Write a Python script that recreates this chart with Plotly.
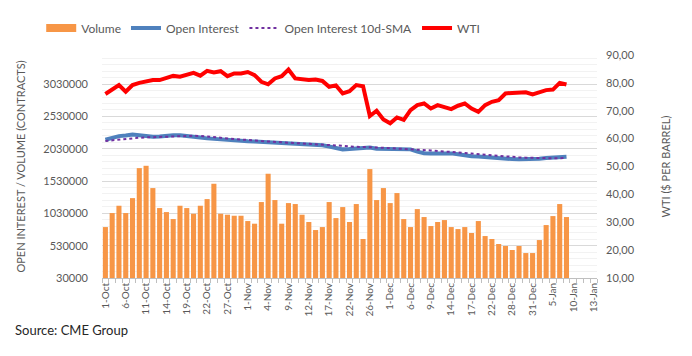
import plotly.graph_objects as go

# Trading-day categories (x axis)
dates = [
    "1-Oct", "4-Oct", "5-Oct", "6-Oct", "7-Oct", "8-Oct", "11-Oct", "12-Oct", "13-Oct", "14-Oct",
    "15-Oct", "18-Oct", "19-Oct", "20-Oct", "21-Oct", "22-Oct", "25-Oct", "26-Oct", "27-Oct", "28-Oct",
    "29-Oct",
    "1-Nov", "2-Nov", "3-Nov", "4-Nov", "5-Nov", "8-Nov", "9-Nov", "10-Nov", "11-Nov", "12-Nov",
    "15-Nov", "16-Nov", "17-Nov", "18-Nov", "19-Nov", "22-Nov", "23-Nov", "24-Nov", "26-Nov", "29-Nov",
    "30-Nov",
    "1-Dec", "2-Dec", "3-Dec", "6-Dec", "7-Dec", "8-Dec", "9-Dec", "10-Dec", "13-Dec", "14-Dec",
    "15-Dec", "16-Dec", "17-Dec", "20-Dec", "21-Dec", "22-Dec", "23-Dec", "27-Dec", "28-Dec", "29-Dec",
    "30-Dec", "31-Dec",
    "3-Jan", "4-Jan", "5-Jan", "6-Jan", "7-Jan", "10-Jan", "11-Jan", "12-Jan", "13-Jan",
]

volume = [
    818000, 1035000, 1148000, 1035000, 1266000, 1730000, 1766000, 1421000, 1112000, 1050000,
    942000, 1148000, 1112000, 1024000, 1148000, 1251000, 1488000, 1024000, 1009000, 993000,
    993000, 911000, 870000, 1205000, 1643000, 1236000, 870000, 1189000, 1174000, 1009000,
    896000, 772000, 818000, 1205000, 957000, 1127000, 896000, 1174000, 633000, 1715000,
    1236000, 1421000, 1189000, 1344000, 942000, 818000, 1096000, 973000, 834000, 896000,
    926000, 818000, 787000, 818000, 726000, 911000, 679000, 633000, 556000, 525000,
    463000, 525000, 416000, 416000, 617000, 849000, 988000, 1174000, 973000,
]

open_interest = [
    2168000, 2195000, 2225000, 2235000, 2250000, 2240000, 2225000, 2215000, 2220000, 2232000,
    2238000, 2238000, 2230000, 2210000, 2205000, 2190000, 2180000, 2170000, 2165000, 2160000,
    2150000, 2145000, 2140000, 2135000, 2132000, 2130000, 2115000, 2105000, 2100000, 2095000,
    2105000, 2100000, 2085000, 2065000, 2035000, 2020000, 2025000, 2030000, 2035000, 2050000,
    2030000, 2030000, 2025000, 2025000, 2025000, 2020000, 1985000, 1960000, 1955000, 1958000,
    1962000, 1958000, 1945000, 1925000, 1915000, 1910000, 1900000, 1895000, 1885000, 1875000,
    1870000, 1868000, 1868000, 1870000, 1875000, 1885000, 1895000, 1905000, 1905000,
]

oi_sma = [
    2150000, 2160000, 2175000, 2188000, 2195000, 2200000, 2205000, 2210000, 2215000, 2218000,
    2222000, 2225000, 2228000, 2230000, 2228000, 2222000, 2212000, 2200000, 2190000, 2180000,
    2170000, 2162000, 2155000, 2148000, 2142000, 2136000, 2130000, 2125000, 2120000, 2115000,
    2110000, 2106000, 2102000, 2095000, 2085000, 2075000, 2065000, 2058000, 2052000, 2050000,
    2048000, 2045000, 2040000, 2035000, 2032000, 2028000, 2022000, 2012000, 2003000, 1995000,
    1990000, 1985000, 1975000, 1965000, 1955000, 1945000, 1935000, 1925000, 1915000, 1908000,
    1902000, 1896000, 1892000, 1888000, 1885000, 1882000, 1882000, 1884000, 1886000,
]

wti = [
    76.0, 77.6, 79.2, 76.8, 79.2, 80.0, 80.6, 81.0, 81.0, 81.6,
    82.5, 82.2, 82.8, 83.6, 82.6, 84.3, 83.7, 84.2, 82.4, 83.4,
    83.4, 83.9, 82.8, 80.4, 79.5, 81.6, 82.4, 84.8, 81.6, 81.3,
    81.0, 81.2, 80.7, 78.6, 79.1, 76.2, 77.0, 79.2, 78.8, 68.1,
    70.0, 66.9, 65.5, 67.6, 66.7, 70.2, 72.0, 72.6, 70.8, 72.0,
    71.4, 70.6, 71.8, 72.6, 70.8, 69.6, 72.0, 73.2, 73.8, 76.2,
    76.4, 76.5, 76.6, 75.9, 76.5, 77.4, 77.6, 80.0, 79.4,
]

label_step = 3
font_family = "Lato, 'Open Sans', sans-serif"
grey_text = "#595959"
vol_color = "#F79646"

# the page body adds an 8px offset; plot area in figure coordinates:
plot_l, plot_r, plot_t, plot_b = 94, 589, 47, 270
W, H = 692, 356

xpos = list(range(len(dates)))
xdata = xpos[:len(volume)]

fig = go.Figure()
fig.add_trace(go.Bar(
    x=xdata, y=volume, name="Volume", showlegend=False, legendgroup="vol",
    marker=dict(color=vol_color, line=dict(width=0)),
))
# legend-only entry so the Volume key is drawn as a wide block like the original
fig.add_trace(go.Scatter(
    x=[None], y=[None], name="Volume", mode="lines", legendgroup="vol",
    line=dict(color=vol_color, width=8), hoverinfo="skip",
))
fig.add_trace(go.Scatter(
    x=xdata, y=open_interest, name="Open Interest", mode="lines",
    line=dict(color="#4F81BD", width=4),
))
fig.add_trace(go.Scatter(
    x=xdata, y=oi_sma, name="Open Interest 10d-SMA", mode="lines",
    line=dict(color="#7030A0", width=2, dash="dot"),
))
fig.add_trace(go.Scatter(
    x=xdata, y=wti, name="WTI", mode="lines", yaxis="y2",
    line=dict(color="#FF0000", width=4),
))

fig.update_layout(
    width=W, height=H,
    margin=dict(l=plot_l, r=W - plot_r, t=plot_t, b=H - plot_b, autoexpand=False),
    paper_bgcolor="white", plot_bgcolor="white",
    font=dict(family=font_family, color=grey_text, size=11),
    separators=",.",
    bargap=0.25,
    showlegend=True,
    legend=dict(
        orientation="h", xref="container", yref="container",
        x=0.048, xanchor="left", y=1 - 20 / H, yanchor="middle",
        font=dict(size=12, color=grey_text), traceorder="normal",
        bgcolor="rgba(0,0,0,0)",
    ),
    xaxis=dict(
        automargin=False,
        range=[-0.5, len(dates) - 0.5],
        tickmode="array",
        tickvals=xpos[::label_step],
        ticktext=dates[::label_step],
        tickangle=-90,
        ticks="",
        tickfont=dict(size=10, color=grey_text),
        showline=True, linecolor="#BFBFBF", linewidth=1,
        showgrid=False, zeroline=False,
        minor=dict(tickmode="linear", tick0=-0.5, dtick=1, ticks="outside",
                   ticklen=4, tickcolor="#BFBFBF", showgrid=False),
    ),
    yaxis=dict(
        automargin=False,
        range=[30000, 3480000],
        tickmode="linear", tick0=30000, dtick=500000,
        tickformat="d",
        tickfont=dict(size=11, color=grey_text),
        showgrid=True, gridcolor="#D9D9D9", gridwidth=1,
        zeroline=False, showline=False,
        ticklabelstandoff=13,
        minor=dict(tickmode="linear", tick0=30000, dtick=100000,
                   showgrid=True, gridcolor="#F2F2F2", gridwidth=1),
        title=dict(text="OPEN INTEREST / VOLUME (CONTRACTS)",
                   font=dict(size=11, color=grey_text), standoff=15),
    ),
    yaxis2=dict(
        automargin=False,
        overlaying="y", side="right",
        range=[10, 90],
        tickmode="linear", tick0=10, dtick=10,
        tickformat=".2f",
        tickfont=dict(size=11, color=grey_text),
        showgrid=False, zeroline=False, showline=False,
        ticklabelstandoff=8,
        title=dict(text="WTI ($ PER BARREL)",
                   font=dict(size=11, color=grey_text), standoff=28),
    ),
    annotations=[dict(
        text="Source: CME Group", xref="paper", yref="paper",
        x=(5 - plot_l) / (plot_r - plot_l), y=(plot_b - 322) / (plot_b - plot_t),
        xanchor="left", yanchor="middle", showarrow=False,
        font=dict(size=13, color="#262626", family=font_family),
    )],
)

fig.write_html("out.html")
